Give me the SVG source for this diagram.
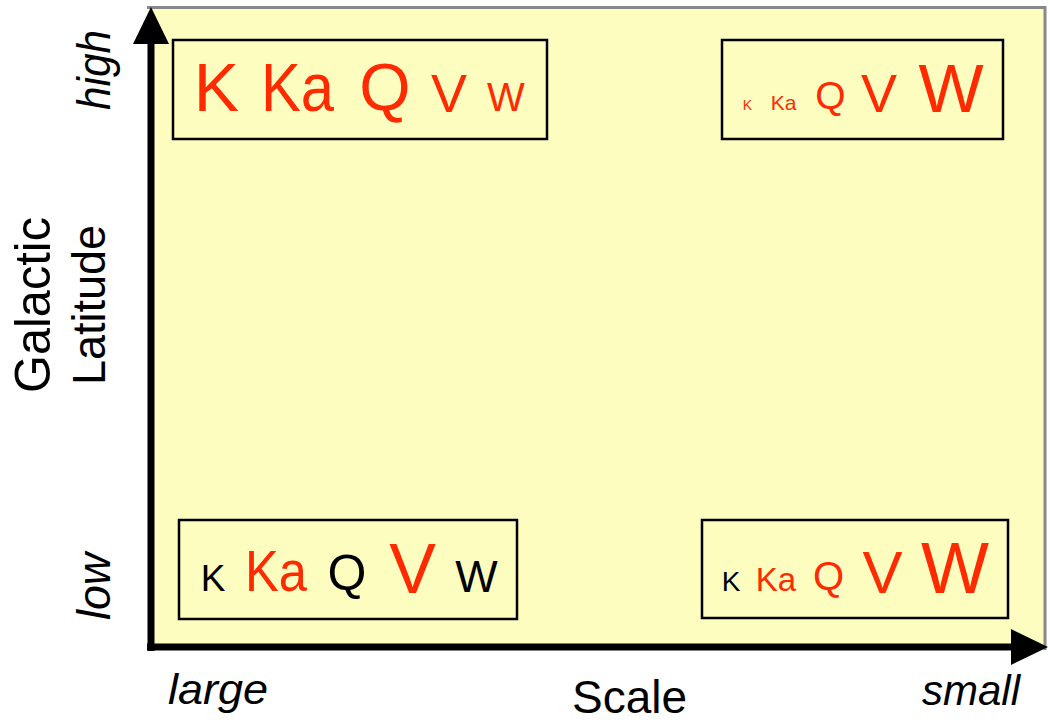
<svg xmlns="http://www.w3.org/2000/svg" width="1050" height="724" viewBox="0 0 1050 724">
<defs>
<style>
.box{fill:none;stroke:#000;stroke-width:2.5}
.r{fill:#FF2A00}
.k{fill:#000}
.t{font-family:"Liberation Sans",Arial,sans-serif;text-anchor:middle}
.ax{font-family:"Liberation Sans",Arial,sans-serif;fill:#000}
.it{font-style:italic}
.axis{stroke:#000;stroke-width:7;fill:none}
</style>
<marker id="ah" markerUnits="userSpaceOnUse" markerWidth="37" markerHeight="37" refX="0" refY="18" orient="auto" viewBox="0 0 37 36">
<path d="M0,0 L37,18 L0,36 z" fill="#000"/>
</marker>
</defs>
<rect x="147" y="7" width="898" height="643" fill="#FDFDC0"/>
<path d="M147,7.5 H1045 V650" fill="none" stroke="#888" stroke-width="3"/>
<g id="connectors">
<path class="axis" d="M151,651 V44" marker-end="url(#ah)"/>
<path class="axis" d="M147,647 H1011" marker-end="url(#ah)"/>
</g>
<g id="box-top-left">
<rect class="box" x="173" y="40" width="374" height="99"/>
<text class="t r" x="216.5" y="111" font-size="68">K</text>
<text class="t r" x="297.5" y="111" font-size="68" textLength="73" lengthAdjust="spacingAndGlyphs">Ka</text>
<text class="t r" x="385" y="110" font-size="66">Q</text>
<text class="t r" x="449" y="112" font-size="54">V</text>
<text class="t r" x="506" y="111" font-size="40">W</text>
</g>
<g id="box-top-right">
<rect class="box" x="722" y="40" width="281" height="99"/>
<text class="t r" x="747.5" y="110" font-size="14">K</text>
<text class="t r" x="783.5" y="110" font-size="21">Ka</text>
<text class="t r" x="830.5" y="109" font-size="39">Q</text>
<text class="t r" x="879" y="112" font-size="54">V</text>
<text class="t r" x="951" y="112" font-size="69">W</text>
</g>
<g id="box-bottom-left">
<rect class="box" x="179" y="520" width="338" height="99"/>
<text class="t k" x="213" y="591" font-size="37">K</text>
<text class="t r" x="276" y="591" font-size="57" textLength="62" lengthAdjust="spacingAndGlyphs">Ka</text>
<text class="t k" x="347" y="590" font-size="50">Q</text>
<text class="t r" x="412.5" y="593" font-size="70">V</text>
<text class="t k" x="476.5" y="592" font-size="45">W</text>
</g>
<g id="box-bottom-right">
<rect class="box" x="702" y="520" width="306" height="98"/>
<text class="t k" x="731" y="591" font-size="28">K</text>
<text class="t r" x="776" y="591" font-size="33">Ka</text>
<text class="t r" x="828.5" y="590" font-size="40">Q</text>
<text class="t r" x="882.5" y="593" font-size="60">V</text>
<text class="t r" x="955" y="593" font-size="72">W</text>
</g>
<g id="y-axis-labels">
<text class="ax" transform="translate(50,305) rotate(-90)" font-size="50" text-anchor="middle" textLength="176" lengthAdjust="spacingAndGlyphs">Galactic</text>
<text class="ax" transform="translate(105,305) rotate(-90)" font-size="46" text-anchor="middle" textLength="160" lengthAdjust="spacingAndGlyphs">Latitude</text>
<text class="ax it" transform="translate(110,110) rotate(-90)" font-size="46" textLength="80" lengthAdjust="spacingAndGlyphs">high</text>
<text class="ax it" transform="translate(110,620) rotate(-90)" font-size="46" textLength="67" lengthAdjust="spacingAndGlyphs">low</text>
</g>
<g id="x-axis-labels">
<text class="ax it" x="168" y="704" font-size="42" textLength="100" lengthAdjust="spacingAndGlyphs">large</text>
<text class="ax" x="572" y="713" font-size="46" textLength="115" lengthAdjust="spacingAndGlyphs">Scale</text>
<text class="ax it" x="922" y="705" font-size="42" textLength="98" lengthAdjust="spacingAndGlyphs">small</text>
</g>
</svg>
